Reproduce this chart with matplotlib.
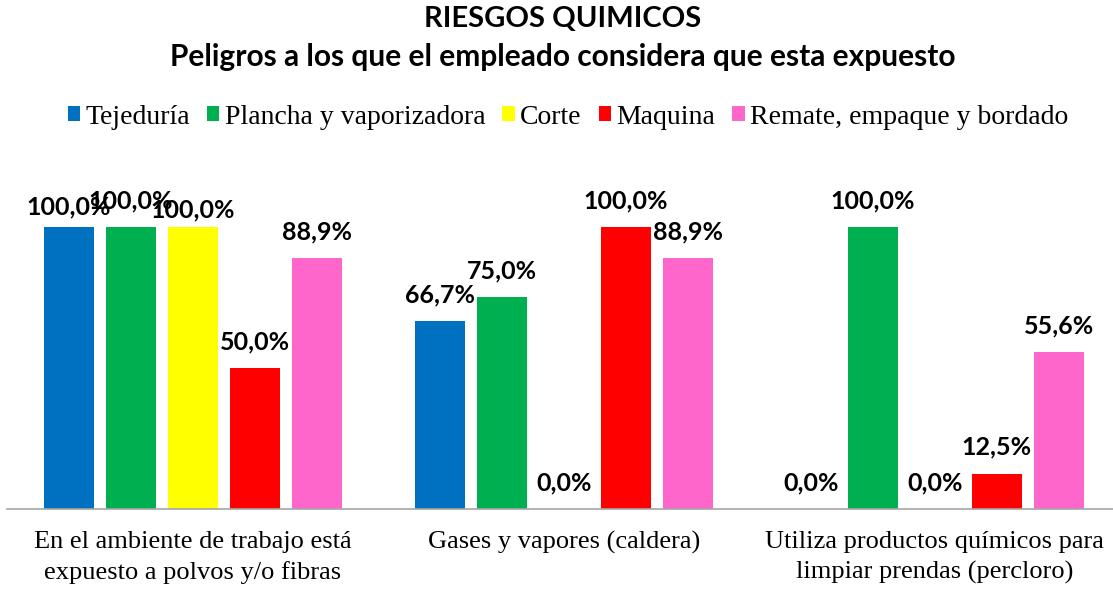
import matplotlib
matplotlib.use("Agg")
import matplotlib.pyplot as plt
import numpy as np

categories = ["En el ambiente de trabajo está\nexpuesto a polvos y/o fibras",
              "Gases y vapores (caldera)",
              "Utiliza productos químicos para\nlimpiar prendas (percloro)"]
series = ["Tejeduría", "Plancha y vaporizadora", "Corte", "Maquina",
          "Remate, empaque y bordado"]
tejeduria = [100.0, 66.7, 0.0]
plancha = [100.0, 75.0, 100.0]
corte = [100.0, 0.0, 0.0]
maquina = [50.0, 100.0, 12.5]
remate = [88.9, 88.9, 55.6]
colors = ["#0070C0", "#00B050", "#FFFF00", "#FF0000", "#FF66CC"]

W, H = 1113, 590
fig = plt.figure(figsize=(W / 100, H / 100), dpi=100)
# plot area in pixels: left 7, right 1113, baseline 509, top 150
ax = fig.add_axes([7 / W, (H - 509) / H, (W - 7) / W, (509 - 150) / H])

# excel nudged the crowded labels of the first group up/down a bit
nudge = {(0, 0): -4.5, (2, 0): -7}

x = np.arange(len(categories))
width = 0.135
step = 0.167
values = [tejeduria, plancha, corte, maquina, remate]
for i, (name, vals, c) in enumerate(zip(series, values, colors)):
    pos = x + (i - 2) * step
    ax.bar(pos, vals, width, color=c, label=name)
    for j, (px, v) in enumerate(zip(pos, vals)):
        dy = 19 + nudge.get((i, j), 0)
        ax.annotate(f"{v:.1f}%".replace(".", ","), (px, v), xytext=(0, dy),
                    textcoords="offset points", ha="center", va="center",
                    fontsize=18, fontweight="bold", family="Lato")

ax.set_xlim(-0.501, 2.48)
ax.set_ylim(0, 127.3)
ax.set_yticks([])
ax.set_xticks(x)
ax.set_xticklabels(categories, family="Liberation Serif", fontsize=19,
                   linespacing=1.45)
ax.tick_params(axis="x", length=0, pad=16)
for s in ["top", "right", "left"]:
    ax.spines[s].set_visible(False)
ax.spines["bottom"].set_color("#A6A6A6")
ax.spines["bottom"].set_linewidth(1.2)

fig.text(563 / W, 1 - 19 / H, "RIESGOS QUIMICOS", ha="center", va="center",
         fontsize=21, fontweight="bold", family="Lato")
fig.text(563 / W, 1 - 57 / H,
         "Peligros a los que el empleado considera que esta expuesto",
         ha="center", va="center", fontsize=21.5, fontweight="bold",
         family="Lato")

fig.legend(loc="center", bbox_to_anchor=(568 / W, 1 - 117 / H), ncol=5,
           frameon=False, prop={"family": "Liberation Serif", "size": 20},
           handlelength=0.45, handleheight=0.45, handletextpad=0.2,
           columnspacing=0.6, borderaxespad=0)

fig.savefig("out.png", dpi=100)
